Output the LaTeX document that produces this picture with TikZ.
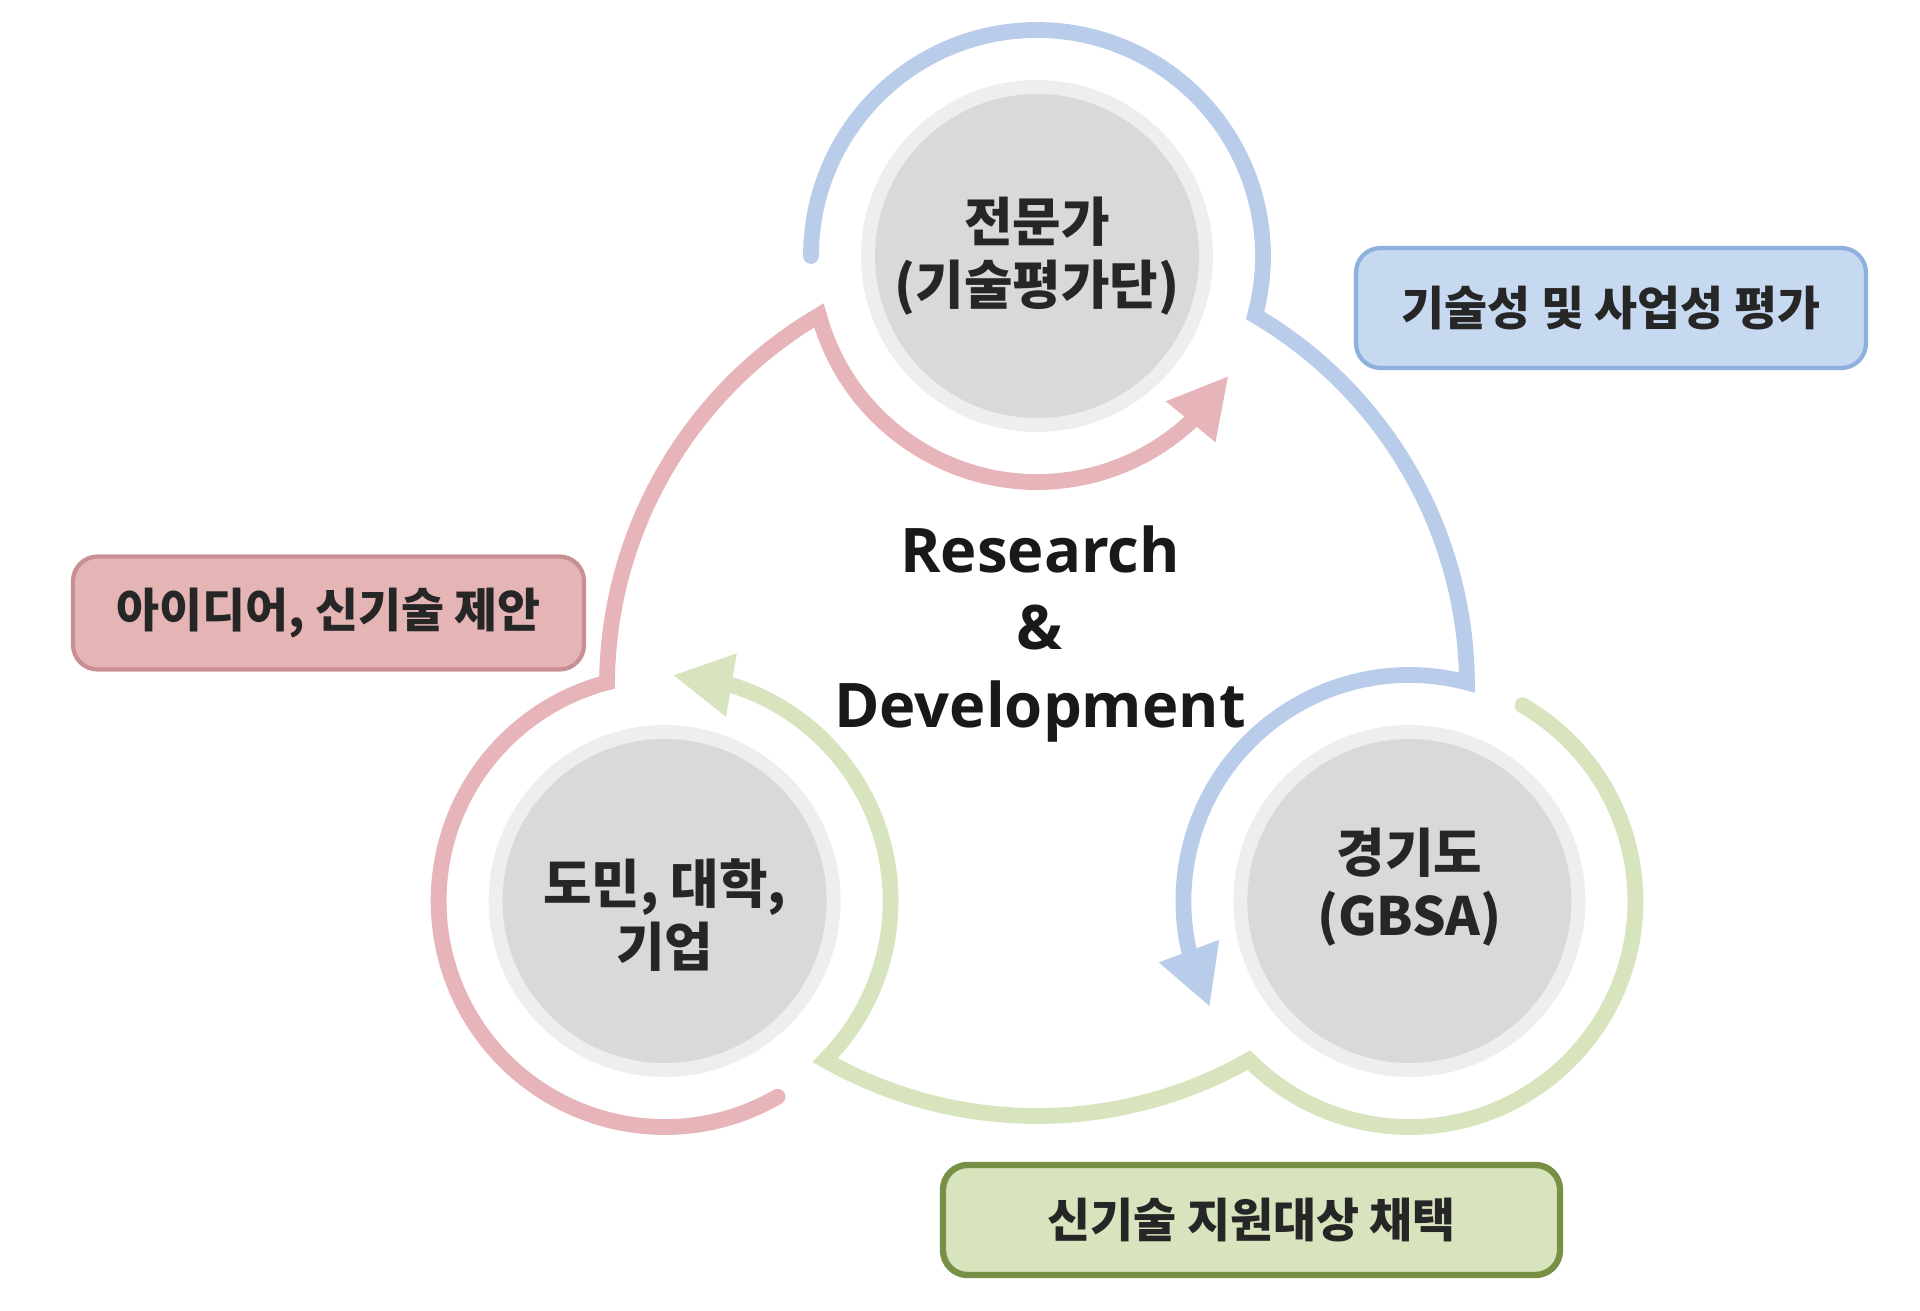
\documentclass[tikz,border=0pt]{standalone}
\usepackage{fontspec}
\setmainfont{Noto Sans CJK KR}
\newfontfamily\rdfont{Open Sans}
\usetikzlibrary{arrows.meta,bending}
\definecolor{arcblue}{HTML}{B9CDEB}
\definecolor{arcred}{HTML}{E6B4B9}
\definecolor{arcgreen}{HTML}{D7E4BE}
\definecolor{boxblue}{HTML}{C6D9F1}
\definecolor{lineblue}{HTML}{8EB0DC}
\definecolor{boxred}{HTML}{E5B5B6}
\definecolor{linered}{HTML}{C99093}
\definecolor{boxgreen}{HTML}{D7E4BD}
\definecolor{linegreen}{HTML}{788F46}
\definecolor{ringgray}{HTML}{EEEEEE}
\definecolor{ballgray}{HTML}{D9D9D9}
\begin{document}
\begin{tikzpicture}[
	ball text/.style={align=center, text=black!85, font=\bfseries\fontsize{15}{18}\selectfont},
	flow/.style={line width=4.5pt, line cap=round, -{Triangle[width=17pt,length=17pt]}},
	label box/.style={rounded corners=7pt, line width=1.2pt, text=black!85, font=\bfseries\fontsize{13.3}{16}\selectfont}
	]
	\useasboundingbox (0,0) rectangle (19.2,13.1);
	% Tâm chung va ba tâm
	\coordinate (O) at (10.37,6.24);
	\coordinate (ctop) at (10.37,10.54);
	\coordinate (cleft) at (6.646,4.09);
	\coordinate (cright) at (14.094,4.09);
	% Ba hình tròn xám
	\fill[ringgray] (ctop) circle(1.76);
	\fill[ballgray] (ctop) circle(1.62);
	\fill[ringgray] (cleft) circle(1.76);
	\fill[ballgray] (cleft) circle(1.62);
	\fill[ringgray] (cright) circle(1.76);
	\fill[ballgray] (cright) circle(1.62);
	\node[ball text] (expert) at (ctop) {전문가\\(기술평가단)};
	\node[ball text] (citizen) at ([yshift=-0.14cm]cleft) {도민, 대학,\\기업};
	\node[ball text] (gbsa) at ([yshift=0.14cm]cright) {경기도\\(GBSA)};
	% Mũi tên xanh: 전문가 -> 경기도
	\draw[flow, arcblue] (ctop) ++(180:2.26) arc[start angle=180, end angle=-15.24, radius=2.26]
		arc[start angle=59.53, end angle=0.47, radius=4.3]
		arc[start angle=75.24, end angle=208, radius=2.26];
	% Mũi tên lục: 경기도 -> 도민
	\draw[flow, arcgreen] (cright) ++(60:2.26) arc[start angle=60, end angle=-135.24, radius=2.26]
		arc[start angle=299.53, end angle=240.47, radius=4.3]
		arc[start angle=315.24, end angle=448, radius=2.26];
	% Mũi tên đỏ: 도민 -> 전문가
	\draw[flow, arcred] (cleft) ++(300:2.26) arc[start angle=300, end angle=104.76, radius=2.26]
		arc[start angle=179.53, end angle=120.47, radius=4.3]
		arc[start angle=195.24, end angle=328, radius=2.26];
	% Chữ ở giữa
	\node[align=center, text=black!90, font=\rdfont\bfseries\fontsize{17.5}{22}\selectfont] (rd) at (10.40,6.76) {Research\\\&\\Development};
	% Ba hộp
	\node[label box, fill=boxblue, draw=lineblue, minimum width=5.10cm, minimum height=1.20cm] (eval) at (16.11,10.02) {기술성 및 사업성 평가};
	\node[label box, fill=boxred, draw=linered, minimum width=5.11cm, minimum height=1.13cm] (idea) at (3.285,6.97) {아이디어, 신기술 제안};
	\node[label box, fill=boxgreen, draw=linegreen, line width=1.8pt, minimum width=6.17cm, minimum height=1.10cm] (adopt) at (12.515,0.90) {신기술 지원대상 채택};
\end{tikzpicture}
\end{document}
